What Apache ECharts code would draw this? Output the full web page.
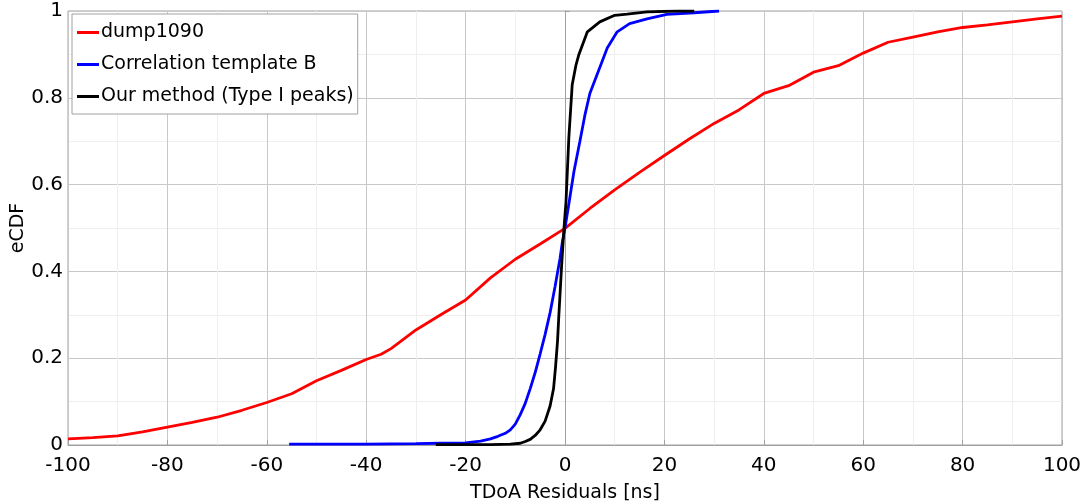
<!DOCTYPE html>
<html>
<head>
<meta charset="utf-8">
<script src="https://cdn.jsdelivr.net/npm/echarts@6/dist/echarts.min.js"></script>
<style>html,body{margin:0;padding:0;background:#fff}#c{width:1082px;height:502px}</style>
</head>
<body>
<div id="c"></div>
<script>
// dump1090
var dumpX = [-100,-95,-90,-85,-80,-75,-70,-65,-60,-55,-50,-45,-40,-37,-35,-30,-25,-20,-15,-10,-5,0,5,10,15,20,25,30,35,40,45,50,55,60,65,70,75,80,85,90,95,100];
var dumpY = [0.014,0.017,0.021,0.030,0.041,0.052,0.064,0.080,0.098,0.118,0.148,0.172,0.197,0.209,0.222,0.265,0.300,0.334,0.385,0.428,0.463,0.499,0.545,0.588,0.628,0.667,0.705,0.741,0.772,0.810,0.828,0.859,0.874,0.903,0.928,0.940,0.952,0.962,0.968,0.975,0.982,0.988];
// Correlation template B
var corrX = [-55.5,-40,-30,-25,-20,-17,-15,-13.5,-12,-11,-10,-9,-8,-7,-6,-5,-4,-3,-2,-1,-0.5,0,0.7,1.8,3,4,5,6.5,8.5,10.5,13,16.5,20.5,26,31];
var corrY = [0.002,0.002,0.003,0.004,0.005,0.009,0.014,0.020,0.027,0.035,0.048,0.070,0.096,0.130,0.167,0.210,0.255,0.305,0.365,0.430,0.470,0.500,0.550,0.630,0.700,0.760,0.810,0.855,0.915,0.952,0.971,0.982,0.992,0.996,1.000];
// Our method (Type I peaks)
var oursX = [-26,-15,-11,-9,-8,-7,-6,-5,-4,-3,-2.3,-1.9,-1.5,-1.25,-0.7,-0.2,0.2,0.77,1.45,2.2,2.8,4.5,7,10,12.5,16.5,23,26];
var oursY = [0.001,0.001,0.002,0.004,0.008,0.013,0.022,0.035,0.055,0.090,0.130,0.180,0.240,0.296,0.410,0.500,0.560,0.707,0.830,0.875,0.900,0.952,0.975,0.990,0.993,0.998,1.000,1.000];

var names = ['dump1090','Correlation template B','Our method (Type I peaks)'];
var colors = ['#ff0000','#0000ff','#000000'];
function pairs(xs, ys){ return xs.map(function(x,i){return [x, ys[i]];}); }
var sets = [pairs(dumpX,dumpY), pairs(corrX,corrY), pairs(oursX,oursY)];

var font = 'DejaVu Sans';
var chart = echarts.init(document.getElementById('c'));
chart.setOption({
  animation: false,
  textStyle: {fontFamily: font},
  grid: {left: 68, right: 20, top: 11, bottom: 57, containLabel: false, outerBoundsMode: 'none',
         show: true, borderColor: '#a0a0a0', borderWidth: 1},
  legend: {
    orient: 'vertical', left: 72, top: 14,
    backgroundColor: '#fff', borderColor: '#a0a0a0', borderWidth: 1,
    padding: [9, 4, 8, 5], itemGap: 13,
    itemWidth: 22, itemHeight: 3,
    icon: 'rect',
    textStyle: {fontFamily: font, fontSize: 19, color: '#000', padding: [0,0,0,-3]},
    data: names
  },
  xAxis: {
    type: 'value', min: -100, max: 100, interval: 20,
    name: 'TDoA Residuals [ns]', nameLocation: 'middle', nameGap: 39,
    nameTextStyle: {fontFamily: font, fontSize: 19, color: '#000'},
    axisLine: {show: true, lineStyle: {color: '#a0a0a0'}},
    axisTick: {show: true, inside: true, length: 5, lineStyle: {color: '#a0a0a0'}},
    axisLabel: {fontFamily: font, fontSize: 20, color: '#000', margin: 11},
    splitLine: {show: true, lineStyle: {color: '#c8c8c8', width: 1}},
    minorTick: {show: false, splitNumber: 2},
    minorSplitLine: {show: true, lineStyle: {color: '#eeeeee', width: 1}}
  },
  yAxis: {
    type: 'value', min: 0, max: 1, interval: 0.2,
    name: 'eCDF', nameLocation: 'middle', nameGap: 40, nameMoveOverlap: false,
    nameTextStyle: {fontFamily: font, fontSize: 19, color: '#000'},
    axisLine: {show: true, lineStyle: {color: '#a0a0a0'}},
    axisTick: {show: true, inside: true, length: 5, lineStyle: {color: '#a0a0a0'}},
    axisLabel: {fontFamily: font, fontSize: 20, color: '#000', margin: 5},
    splitLine: {show: true, lineStyle: {color: '#c8c8c8', width: 1}},
    minorTick: {show: false, splitNumber: 2},
    minorSplitLine: {show: true, lineStyle: {color: '#eeeeee', width: 1}}
  },
  series: names.map(function(n, i){
    return {
      name: n, type: 'line', data: sets[i], showSymbol: false, symbol: 'none',
      lineStyle: {color: colors[i], width: 2.8}, itemStyle: {color: colors[i]},
      z: 3 + i
    };
  })
});
</script>
</body>
</html>
